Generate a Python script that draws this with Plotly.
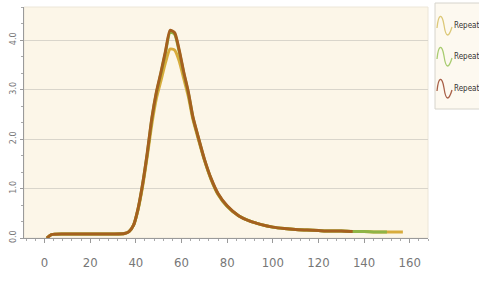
import plotly.graph_objects as go

# ---- data ----
x_brown = [1, 3, 10, 20, 30, 35, 37, 39, 41, 43, 45, 47, 49, 51, 53, 55, 57, 59, 61, 63, 65, 67, 70, 73, 76, 80, 85, 90, 95, 100, 105, 110, 115, 120, 125, 130, 135]
y_brown = [0.0, 0.07, 0.08, 0.08, 0.08, 0.09, 0.13, 0.26, 0.60, 1.10, 1.72, 2.42, 2.95, 3.35, 3.78, 4.20, 4.15, 3.80, 3.35, 2.95, 2.45, 2.10, 1.60, 1.20, 0.90, 0.65, 0.45, 0.34, 0.27, 0.22, 0.19, 0.17, 0.16, 0.15, 0.14, 0.14, 0.13]

x_green = [1, 3, 10, 20, 30, 35, 37, 39, 41, 43, 45, 47, 49, 51, 53, 55, 57, 59, 61, 63, 65, 67, 70, 73, 76, 80, 85, 90, 95, 100, 105, 110, 115, 120, 125, 130, 135, 140, 145, 150]
y_green = [0.0, 0.07, 0.08, 0.08, 0.08, 0.09, 0.13, 0.26, 0.59, 1.09, 1.70, 2.40, 2.93, 3.33, 3.75, 4.16, 4.12, 3.77, 3.33, 2.93, 2.44, 2.09, 1.59, 1.19, 0.89, 0.64, 0.45, 0.34, 0.27, 0.22, 0.19, 0.17, 0.16, 0.15, 0.14, 0.14, 0.13, 0.13, 0.12, 0.12]

x_yellow = [1, 3, 10, 20, 30, 35, 37, 39, 41, 43, 45, 47, 49, 51, 53, 55, 57, 59, 61, 63, 65, 67, 70, 73, 76, 80, 85, 90, 95, 100, 105, 110, 115, 120, 125, 130, 135, 140, 145, 150, 157]
y_yellow = [0.0, 0.07, 0.08, 0.08, 0.08, 0.09, 0.13, 0.26, 0.58, 1.05, 1.65, 2.30, 2.82, 3.18, 3.55, 3.82, 3.80, 3.58, 3.22, 2.86, 2.40, 2.06, 1.58, 1.18, 0.88, 0.64, 0.45, 0.34, 0.27, 0.22, 0.19, 0.17, 0.16, 0.15, 0.14, 0.14, 0.13, 0.13, 0.12, 0.12, 0.12]

series_names = ["Repeat", "Repeat", "Repeat"]
series_colors = ["#d8ac3c", "#8fb445", "#a5601f"]
legend_icon_colors = ["#dcc878", "#a8cc70", "#a86048"]

x_ticks = [0, 20, 40, 60, 80, 100, 120, 140, 160]
y_ticks = [0, 1, 2, 3, 4]
y_tick_text = ["0.0", "1.0", "2.0", "3.0", "4.0"]

# ---- layout geometry (pixels) ----
W, H = 479, 286
L, R, T, B = 24, 428, 7, 238
pw, ph = R - L, B - T


def px(xp):
    return (xp - L) / pw


def py(yp):
    return (B - yp) / ph


fig = go.Figure()
for xs, ys, name, col in zip([x_yellow, x_green, x_brown], [y_yellow, y_green, y_brown],
                             series_names, series_colors):
    fig.add_trace(go.Scatter(x=xs, y=ys, name=name, mode="lines",
                             line=dict(color=col, width=3, shape="spline", smoothing=0.6),
                             showlegend=False))

font = "Liberation Sans Narrow, DejaVu Sans Condensed, Liberation Sans, sans-serif"

fig.update_layout(
    width=W, height=H,
    margin=dict(l=L, r=W - R, t=T, b=H - B, pad=0),
    paper_bgcolor="white",
    plot_bgcolor="#fcf6e8",
    font=dict(family=font, color="#666"),
    xaxis=dict(range=[-9, 168], tickvals=x_ticks, ticks="outside", ticklen=4, tickcolor="#9a9a9a",
               showline=True, linecolor="#9a9a9a", linewidth=1, showgrid=False, zeroline=False,
               automargin=False, tickfont=dict(size=13, color="#777"), ticklabelstandoff=8,
               minor=dict(dtick=4, tick0=0, ticks="outside", ticklen=2, tickcolor="#aaaaaa")),
    yaxis=dict(range=[0, 4.67], tickvals=y_ticks, ticktext=y_tick_text, tickangle=-90,
               ticks="outside", ticklen=3, tickcolor="#9a9a9a",
               showline=True, linecolor="#9a9a9a", linewidth=1,
               showgrid=True, gridcolor="#d9d5cb", gridwidth=1, zeroline=False,
               automargin=False, tickfont=dict(size=9, color="#777"),
               minor=dict(dtick=1 / 3, tick0=0, ticks="outside", ticklen=2, tickcolor="#aaaaaa",
                          showgrid=False)),
)

# faint border on top/right of plot area
fig.add_shape(type="rect", xref="paper", yref="paper", x0=0, x1=1, y0=0, y1=1,
              line=dict(color="#ece6d8", width=1), layer="below")

# custom legend box
fig.add_shape(type="rect", xref="paper", yref="paper",
              x0=px(435), x1=px(490), y0=py(109), y1=py(3),
              fillcolor="#fdf9f0", line=dict(color="#d6d4cc", width=1))

item_y = [25, 56, 88]
for cy, name, col in zip(item_y, series_names, legend_icon_colors):
    path = (f"M {px(437)} {py(cy + 3)} "
            f"C {px(438.5)} {py(cy - 12)} {px(442)} {py(cy - 12)} {px(444)} {py(cy)} "
            f"C {px(446)} {py(cy + 14)} {px(449)} {py(cy + 12)} {px(452)} {py(cy + 2)}")
    fig.add_shape(type="path", xref="paper", yref="paper", path=path,
                  line=dict(color=col, width=1.3))
    fig.add_annotation(xref="paper", yref="paper", x=px(452), y=py(cy), xanchor="left",
                       yanchor="middle", text=name, showarrow=False,
                       font=dict(size=8, color="#333", family=font))

fig.write_html("out.html", config={"displayModeBar": False},
               post_script="document.body.style.margin='0';document.body.style.overflow='hidden';")
